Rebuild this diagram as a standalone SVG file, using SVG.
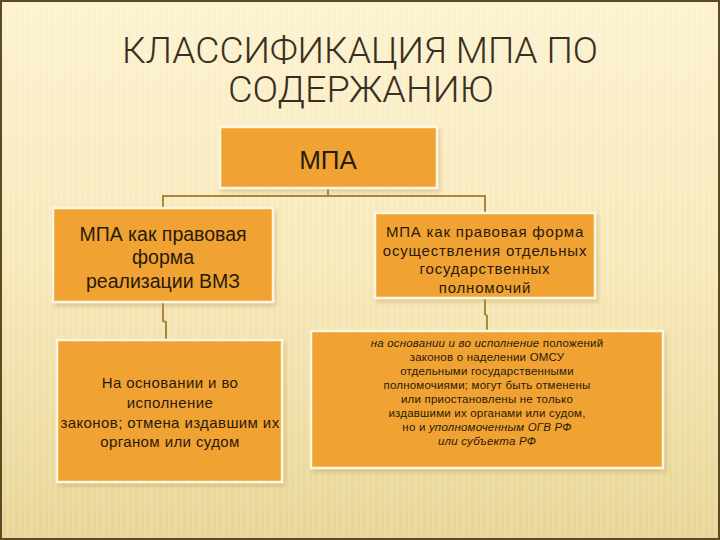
<svg xmlns="http://www.w3.org/2000/svg" width="720" height="540" viewBox="0 0 720 540">
<defs>
<linearGradient id="bg" x1="0" y1="0" x2="0" y2="1">
<stop offset="0" stop-color="#fcf2d0"/>
<stop offset="0.5" stop-color="#f7e8b8"/>
<stop offset="1" stop-color="#e8d494"/>
</linearGradient>
<linearGradient id="tl" x1="0" y1="0" x2="1" y2="0">
<stop offset="0" stop-color="#e0c07a" stop-opacity="0"/>
<stop offset="0.15" stop-color="#dcb870"/>
<stop offset="1" stop-color="#dcb870"/>
</linearGradient>
<pattern id="stripes" width="6" height="6" patternUnits="userSpaceOnUse">
<rect width="3" height="6" fill="#ffffff" fill-opacity="0.12"/>
</pattern>
<filter id="sh" x="-5%" y="-5%" width="115%" height="120%">
<feDropShadow dx="2" dy="3" stdDeviation="2" flood-color="#b08a40" flood-opacity="0.35"/>
</filter>
</defs>
<style>
.box{fill:#f0a330;stroke:#fdf6e0;stroke-width:2.5;filter:url(#sh)}
.t{font-family:"Liberation Sans",Arial,sans-serif;fill:#2a1a0a;text-anchor:middle}
.title{font-family:Roboto,"Liberation Sans",Arial,sans-serif;font-weight:300;fill:#3a2e20;text-anchor:middle;font-size:37px}
.conn{fill:none;stroke:#a8893a;stroke-width:2}
</style>
<rect width="720" height="540" fill="url(#bg)"/>
<rect width="720" height="540" fill="url(#stripes)"/>
<rect x="1" y="1" width="718" height="538" fill="none" stroke="#5c4a22" stroke-width="2"/>
<line x1="0" y1="113" x2="720" y2="113" stroke="url(#tl)" stroke-width="1.5"/>
<g id="title">
<text class="title" x="360" y="63" textLength="476" lengthAdjust="spacingAndGlyphs">КЛАССИФИКАЦИЯ МПА ПО</text>
<text class="title" x="361" y="102" textLength="266" lengthAdjust="spacingAndGlyphs">СОДЕРЖАНИЮ</text>
</g>
<g id="connectors">
<path class="conn" d="M328 188 V196 M163 208 V196 H485 V213"/>
<path class="conn" d="M163 302 V321 L166 322 V340"/>
<path class="conn" d="M485 298 V314 L487 316 V331"/>
</g>
<g id="n-mpa">
<rect class="box" x="220" y="127" width="217" height="61"/>
<text class="t" x="328" y="169" font-size="26">МПА</text>
</g>
<g id="n-vmz">
<rect class="box" x="53" y="208" width="220" height="94"/>
<text class="t" x="163" y="241" font-size="19.5">МПА как правовая</text>
<text class="t" x="163" y="264" font-size="19.5">форма</text>
<text class="t" x="163" y="288" font-size="19.5">реализации ВМЗ</text>
</g>
<g id="n-gos" letter-spacing="0.8">
<rect class="box" x="375" y="213" width="220" height="85"/>
<text class="t" x="485" y="237" font-size="15">МПА как правовая форма</text>
<text class="t" x="485" y="256" font-size="15">осуществления отдельных</text>
<text class="t" x="485" y="274" font-size="15">государственных</text>
<text class="t" x="485" y="293" font-size="15">полномочий</text>
</g>
<g id="n-left2" letter-spacing="0.4">
<rect class="box" x="57" y="340" width="225" height="142"/>
<text class="t" x="170" y="388" font-size="15">На основании и во</text>
<text class="t" x="170" y="408" font-size="15">исполнение</text>
<text class="t" x="170" y="428" font-size="15">законов; отмена издавшим их</text>
<text class="t" x="170" y="447" font-size="15">органом или судом</text>
</g>
<g id="n-right2" letter-spacing="0.2">
<rect class="box" x="311" y="331" width="352" height="137"/>
<text class="t" x="487" y="347" font-size="11.5"><tspan font-style="italic">на основании и во исполнение</tspan> положений</text>
<text class="t" x="487" y="361" font-size="11.5">законов о наделении ОМСУ</text>
<text class="t" x="487" y="375" font-size="11.5">отдельными государственными</text>
<text class="t" x="487" y="389" font-size="11.5">полномочиями; могут быть отменены</text>
<text class="t" x="487" y="403" font-size="11.5">или приостановлены не только</text>
<text class="t" x="487" y="417" font-size="11.5">издавшими их органами или судом,</text>
<text class="t" x="487" y="431" font-size="11.5">но и <tspan font-style="italic">уполномоченным ОГВ РФ</tspan></text>
<text class="t" x="487" y="445" font-size="11.5" font-style="italic">или субъекта РФ</text>
</g>
</svg>
